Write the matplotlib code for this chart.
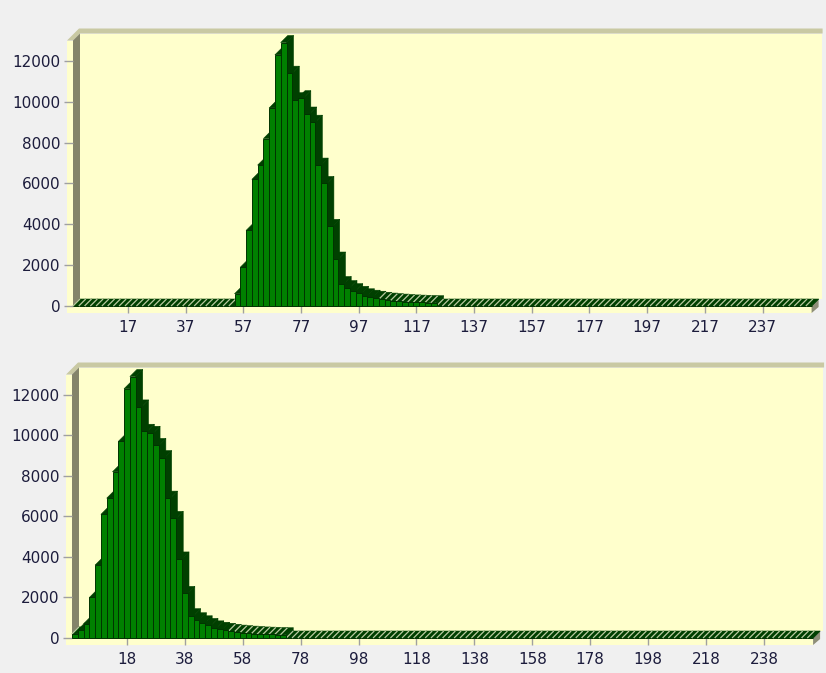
import matplotlib
matplotlib.use("Agg")
import matplotlib.pyplot as plt
from matplotlib.patches import Polygon, Rectangle
from matplotlib.collections import PolyCollection, LineCollection
import numpy as np

# ── Data ──────────────────────────────────────────────────────────────────────
top_counts = [0] * 28 + [
    600, 1900, 3700, 6200, 6900, 8200, 9700, 12300, 12900, 11400,
    10100, 10200, 9400, 9000, 6900, 6000, 3900, 2300, 1100, 900,
    750, 620, 500, 430, 380, 330, 290, 260, 240, 220,
    200, 190, 180, 170, 160,
] + [0] * 65

bottom_counts = [
    200, 400, 700, 2000, 3600, 6100, 6900, 8200, 9700, 12300,
    12900, 11400, 10200, 10100, 9500, 8900, 6900, 5900, 3900, 2200,
    1100, 900, 750, 620, 500, 430, 380, 330, 290, 260,
    240, 220, 200, 190, 180, 170, 160,
] + [0] * 91

tick_bins = [9, 19, 29, 39, 49, 59, 69, 79, 89, 99, 109, 119]
top_tick_labels = ["17", "37", "57", "77", "97", "117", "137", "157",
                   "177", "197", "217", "237"]
bottom_tick_labels = ["18", "38", "58", "78", "98", "118", "138", "158",
                      "178", "198", "218", "238"]
y_ticks = [0, 2000, 4000, 6000, 8000, 10000, 12000]

# ── Style / geometry (pixels) ────────────────────────────────────────────────
W, H, DPI = 826, 673, 100
YMAX = 13000
D = 7            # 3D depth in px
STRIP = 6        # front thickness of walls / floor
BG = "#F0F0F0"
WALL = "#FFFFCC"
WALL_SIDE = "#84846A"
WALL_TOP = "#C9C9A3"
FLOOR_SIDE = "#8E8E78"
FRONT = "#008000"
DARK = "#004000"
EDGE = "#003300"
TXT = "#1c1c3c"

panels = [
    # left, right, y of zero, y of YMAX
    (73.0, 811.6, 306.0, 40.5, top_counts, top_tick_labels),
    (72.0, 813.1, 638.0, 374.5, bottom_counts, bottom_tick_labels),
]

fig = plt.figure(figsize=(W / DPI, H / DPI), dpi=DPI)
fig.patch.set_facecolor(BG)

bg = fig.add_axes([0, 0, 1, 1])
bg.set_xlim(0, W)
bg.set_ylim(H, 0)
bg.axis("off")
bg.set_zorder(0)

for left, right, y0, ytop, counts, xlabels in panels:
    # ── chart walls ──
    bg.add_patch(Rectangle((left + D, ytop - D), right + 3 - left, y0 - ytop,
                           facecolor=WALL, edgecolor="none"))
    bg.add_patch(Polygon([(left - STRIP, ytop), (left, ytop), (left + D, ytop - D),
                          (right + D + 4, ytop - D), (right + D + 4, ytop - D - 5),
                          (left + D - 1, ytop - D - 5)],
                         facecolor=WALL_TOP, edgecolor="none"))
    bg.add_patch(Rectangle((left - STRIP, ytop), STRIP, y0 + STRIP - ytop,
                           facecolor=WALL, edgecolor="none"))
    bg.add_patch(Polygon([(left, ytop), (left, y0), (left + D, y0 - D), (left + D, ytop - D)],
                         facecolor=WALL_SIDE, edgecolor="none"))
    bg.add_patch(Rectangle((left - STRIP, y0), right - left + STRIP, STRIP + 1,
                           facecolor=WALL, edgecolor="none"))
    bg.add_patch(Polygon([(right, y0), (right, y0 + STRIP + 1), (right + D, y0 + 1),
                          (right + D, y0 - D)],
                         facecolor=FLOOR_SIDE, edgecolor="none"))

    # ── data axes ──
    ax = fig.add_axes([left / W, 1 - y0 / H, (right - left) / W, (y0 - ytop) / H])
    ax.set_zorder(1)
    ax.patch.set_alpha(0)
    n = len(counts)
    ax.set_xlim(-0.5, n - 0.5)
    ax.set_ylim(0, YMAX)
    for s in ax.spines.values():
        s.set_visible(False)

    x = np.arange(n)
    h = np.array(counts, dtype=float)
    dx = D / ((right - left) / n)
    dy = D / ((y0 - ytop) / YMAX)

    polys, lines = [], []
    for xi, hi in zip(x, h):
        x0, x1 = xi - 0.5, xi + 0.5
        polys.append([(x1, 0), (x1 + dx, dy), (x1 + dx, hi + dy), (x1, hi)])
        polys.append([(x0, hi), (x1, hi), (x1 + dx, hi + dy), (x0 + dx, hi + dy)])
        if hi < 400 and (xi == 0 or h[xi - 1] < 400):
            lines.append([(x0, hi), (x0 + dx, hi + dy)])
    ax.add_collection(PolyCollection(polys, facecolors=DARK, edgecolors=DARK,
                                     linewidths=0.4, zorder=2, clip_on=False))
    ax.add_collection(LineCollection(lines, colors="#B9C9A0", linewidths=0.9,
                                     zorder=2.5, clip_on=False))
    ax.bar(x, h, width=1.0, color=FRONT, edgecolor=EDGE, linewidth=0.7,
           zorder=3, clip_on=False)

    ax.set_xticks(tick_bins)
    ax.set_xticklabels(xlabels)
    ax.set_yticks(y_ticks)
    ax.set_yticklabels([str(v) for v in y_ticks])
    ax.tick_params(axis="x", length=5, width=1, color="#A0A0A0", pad=5,
                   labelsize=11, labelcolor=TXT)
    ax.tick_params(axis="y", length=6.5, width=1, color="#A0A0A0", pad=2.5,
                   labelsize=11, labelcolor=TXT)

fig.savefig("out.png", dpi=DPI, facecolor=BG)
